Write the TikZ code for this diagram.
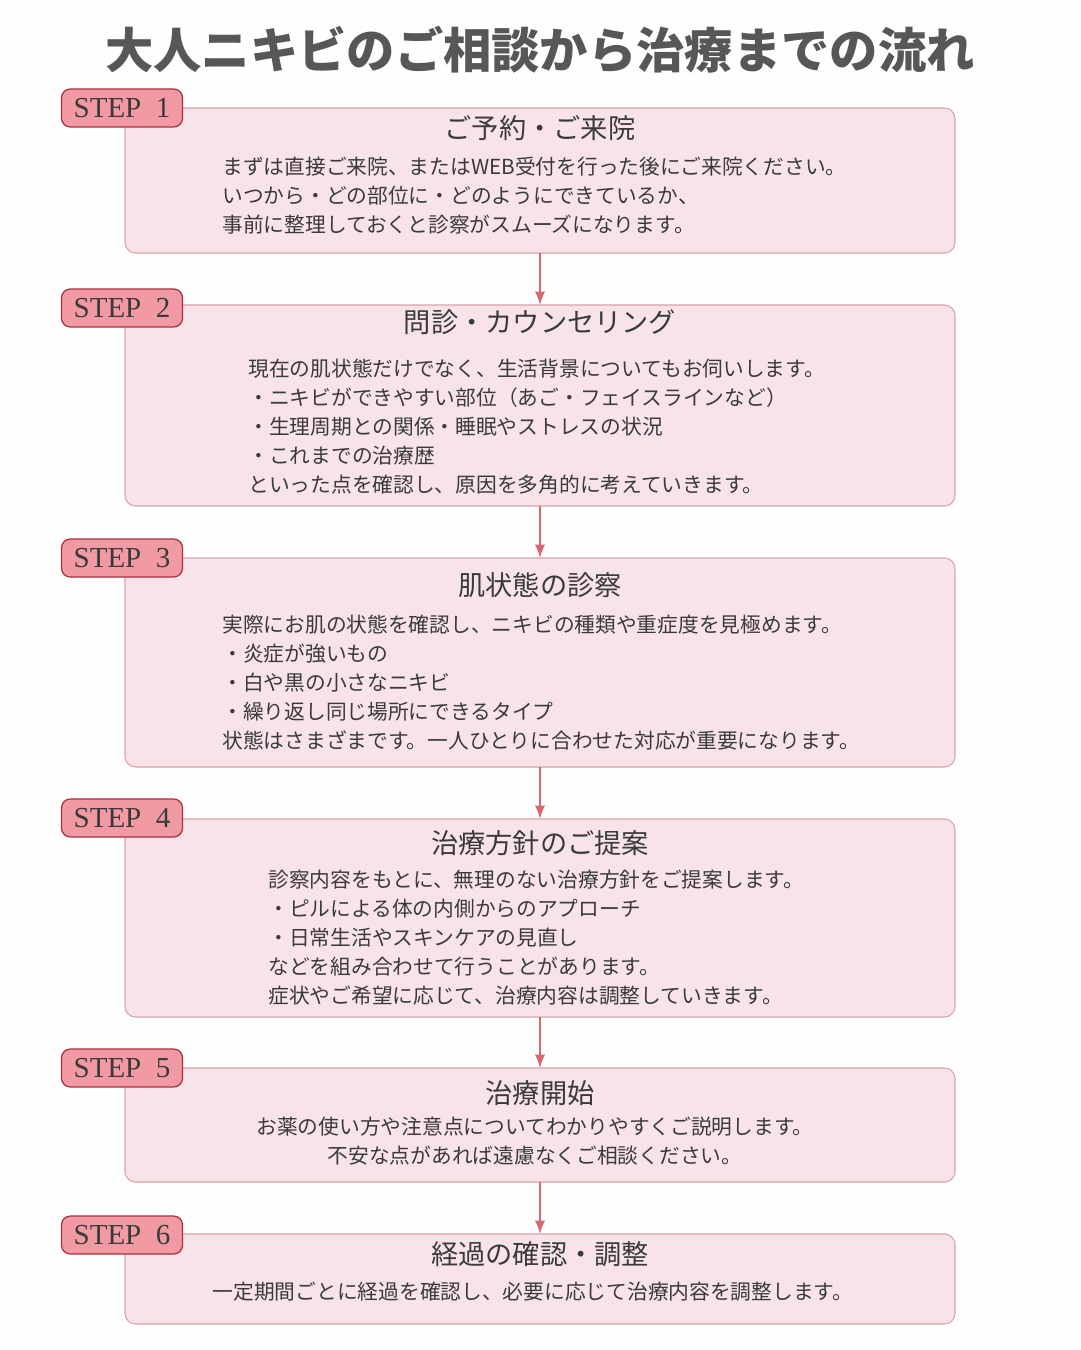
\documentclass[tikz,border=0pt]{standalone}
\usepackage{fontspec}
\setmainfont{Liberation Serif}
\newfontfamily\jp{Noto Sans CJK JP}
\usetikzlibrary{positioning}
\definecolor{boxfill}{HTML}{F8E4E8}
\definecolor{boxline}{HTML}{D9A3AC}
\definecolor{tagfill}{HTML}{F29AA3}
\definecolor{tagline}{HTML}{A8303E}
\definecolor{arrowc}{HTML}{D9676F}
\definecolor{inkc}{HTML}{3A3A3A}
\tikzset{
  stepbox/.style={draw=boxline,fill=boxfill,rounded corners=6pt,line width=0.6pt},
  steptag/.style={draw=tagline,fill=tagfill,rounded corners=5pt,line width=0.7pt,
    minimum width=2.42cm,minimum height=0.76cm,font=\fontsize{16.5}{16.5}\selectfont,text=inkc},
  head/.style={font=\jp\fontsize{15.5}{17}\selectfont,text=inkc},
  body/.style={font=\jp\fontsize{11.8}{16.4}\selectfont,text=inkc,align=left,inner sep=0pt},
  flow/.style={draw=arrowc,line width=1.6pt,-latex}
}
\begin{document}
\begin{tikzpicture}[x=0.02cm,y=-0.02cm]
\fill[white!98!pink] (0,0) rectangle (1080,1350);
\node[font=\jp\bfseries\fontsize{27.5}{28}\selectfont,text=inkc!85] (title) at (540,50) {大人ニキビのご相談から治療までの流れ};
% boxes
\foreach \n/\t/\b in {1/108/253,2/305/506,3/558/767,4/819/1017,5/1068/1182,6/1234/1324}
  \path[stepbox] (125,\t) rectangle (955,\b) coordinate (b\n br)
    (540,\t) coordinate (b\n t) (540,\b) coordinate (b\n b);
% tags
\foreach \n/\y in {1/108,2/308,3/558,4/818,5/1068,6/1235}
  \node[steptag] (tag\n) at (122,\y) {STEP\ \ \n};
% arrows
\foreach \a/\b in {1/2,2/3,3/4,4/5,5/6}
  \draw[flow] (b\a b) -- (b\b t);
% headings
\node[head] (h1) at (540,128) {ご予約・ご来院};
\node[head] (h2) at (540,322) {問診・カウンセリング};
\node[head] (h3) at (540,585) {肌状態の診察};
\node[head] (h4) at (540,843) {治療方針のご提案};
\node[head] (h5) at (540,1093) {治療開始};
\node[head] (h6) at (540,1254) {経過の確認・調整};
% texts
\node[body,anchor=north west] (t1) at (222,157) {まずは直接ご来院、またはWEB受付を行った後にご来院ください。\\いつから・どの部位に・どのようにできているか、\\事前に整理しておくと診察がスムーズになります。};
\node[body,anchor=north west] (t2) at (248,359) {現在の肌状態だけでなく、生活背景についてもお伺いします。\\・ニキビができやすい部位（あご・フェイスラインなど）\\・生理周期との関係・睡眠やストレスの状況\\・これまでの治療歴\\といった点を確認し、原因を多角的に考えていきます。};
\node[body,anchor=north west] (t3) at (222,615) {実際にお肌の状態を確認し、ニキビの種類や重症度を見極めます。\\・炎症が強いもの\\・白や黒の小さなニキビ\\・繰り返し同じ場所にできるタイプ\\状態はさまざまです。一人ひとりに合わせた対応が重要になります。};
\node[body,anchor=north west] (t4) at (268,870) {診察内容をもとに、無理のない治療方針をご提案します。\\・ピルによる体の内側からのアプローチ\\・日常生活やスキンケアの見直し\\などを組み合わせて行うことがあります。\\症状やご希望に応じて、治療内容は調整していきます。};
\node[body,align=center,anchor=north] (t5) at (535,1117) {お薬の使い方や注意点についてわかりやすくご説明します。\\不安な点があれば遠慮なくご相談ください。};
\node[body,align=center,anchor=north] (t6) at (533,1282) {一定期間ごとに経過を確認し、必要に応じて治療内容を調整します。};
\end{tikzpicture}
\end{document}
